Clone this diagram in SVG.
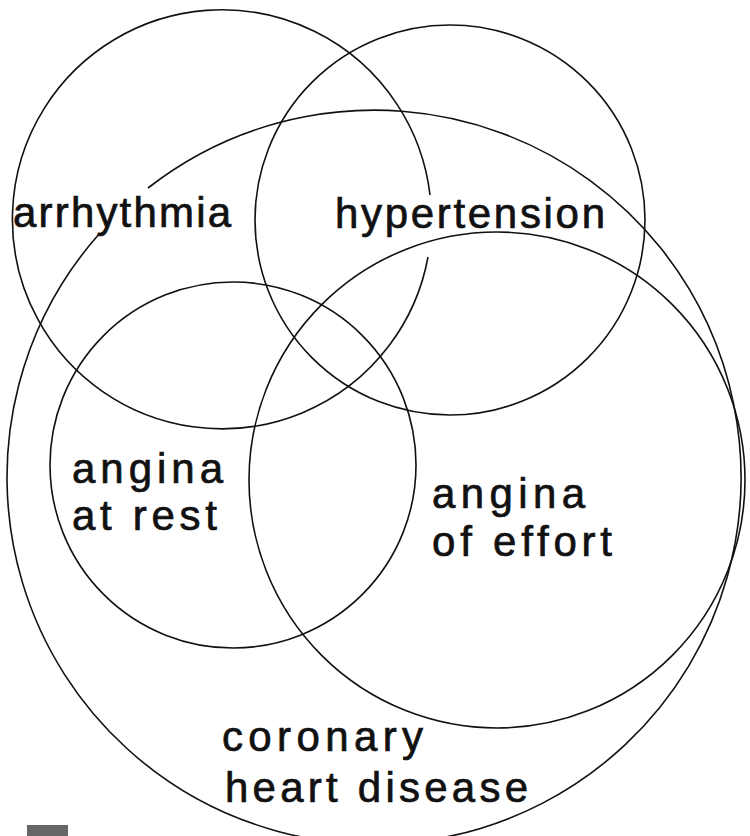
<svg xmlns="http://www.w3.org/2000/svg" width="750" height="836" viewBox="0 0 750 836">
<style>
.ring{fill:none;stroke:#111;stroke-width:1.6}
.lbl{font-family:"Liberation Sans",Arial,Helvetica,sans-serif;font-size:42px;fill:#111;stroke:#111;stroke-width:0.7}
</style>
<rect width="750" height="836" fill="#fff"/>
<g id="coronary-heart-disease">
<path class="ring" d="M 148 188 A 367 367 0 1 1 100 233"/>
<text class="lbl" x="222" y="751" textLength="201" lengthAdjust="spacing">coronary</text>
<text class="lbl" x="225" y="802" textLength="303" lengthAdjust="spacing">heart disease</text>
</g>
<g id="arrhythmia">
<path class="ring" d="M 430 195 A 209.5 209.5 0 1 0 428 257"/>
<text class="lbl" x="13" y="227" textLength="218" lengthAdjust="spacing">arrhythmia</text>
</g>
<g id="hypertension">
<circle class="ring" cx="450" cy="220" r="195"/>
<text class="lbl" x="335" y="228" textLength="270" lengthAdjust="spacing">hypertension</text>
</g>
<g id="angina-at-rest">
<circle class="ring" cx="233" cy="465" r="183"/>
<text class="lbl" x="72" y="483" textLength="151" lengthAdjust="spacing">angina</text>
<text class="lbl" x="72" y="530" textLength="145" lengthAdjust="spacing">at rest</text>
</g>
<g id="angina-of-effort">
<circle class="ring" cx="497" cy="480" r="248"/>
<text class="lbl" x="432" y="508" textLength="153" lengthAdjust="spacing">angina</text>
<text class="lbl" x="432" y="556" textLength="180" lengthAdjust="spacing">of effort</text>
</g>
<g id="connectors"></g>
<rect x="27" y="825" width="41" height="11" fill="#666"/>
</svg>
